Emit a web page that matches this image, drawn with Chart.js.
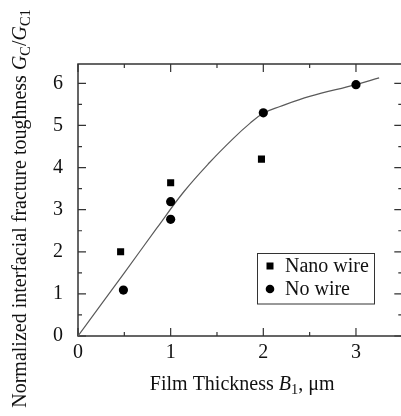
<!DOCTYPE html>
<html><head><meta charset="utf-8">
<script src="https://cdn.jsdelivr.net/npm/chart.js@4"></script>
<style>
html,body{margin:0;padding:0;background:#fff;overflow:hidden;width:401px;height:416px}
#wrap{position:relative;width:410px;height:416px}
</style></head>
<body><div id="wrap"><canvas id="c" width="410" height="416"></canvas></div>
<script>
// ---- data ----
const xTickLabels = [0, 1, 2, 3];
const yTickLabels = [0, 1, 2, 3, 4, 5, 6];
const nanoX = [0.46, 1.0, 1.98];
const nanoY = [2.0, 3.64, 4.2];
const noWireX = [0.49, 1.0, 1.0, 2.0, 3.0];
const noWireY = [1.09, 3.19, 2.77, 5.30, 5.97];
const curveX = [0, 0.5, 0.85, 1.14, 1.42, 1.68, 1.855, 2.0, 2.18, 2.5, 3.0, 3.25];
const curveY = [0, 1.5, 2.56, 3.42, 4.12, 4.70, 5.05, 5.29, 5.45, 5.69, 5.97, 6.13];
const seriesLabels = ['Nano wire', 'No wire'];

const SERIF = "'Liberation Serif', 'Times New Roman', serif";
const INK = '#111';
const AXIS = '#333';

const xTitle = [{t: 'Film Thickness '}, {t: 'B', it: true}, {t: '1', sub: true}, {t: ', \u03BCm'}];
const yTitle = [{t: 'Normalized interfacial fracture toughness '}, {t: 'G', it: true}, {t: 'C', sub: true},
                {t: '/'}, {t: 'G', it: true}, {t: 'C1', sub: true}];

function segFont(s, size) { const sz = s.sub ? size * 0.72 : size; return (s.it ? 'italic ' : '') + sz + 'px ' + SERIF; }
function richWidth(ctx, segs, size) { let w = 0; segs.forEach(s => { ctx.font = segFont(s, size); w += ctx.measureText(s.t).width; }); return w; }
function richDraw(ctx, segs, size, x, y) {
  let cx = x;
  segs.forEach(s => { ctx.font = segFont(s, size); ctx.fillText(s.t, cx, y + (s.sub ? size * 0.22 : 0)); cx += ctx.measureText(s.t).width; });
}
const toXY = (xs, ys) => xs.map((v, i) => ({x: v, y: ys[i]}));

const frameTicks = {
  id: 'frameTicks',
  beforeDatasetsDraw(chart) {
    const {ctx, chartArea: a, scales: {x, y}} = chart;
    ctx.save();
    ctx.strokeStyle = AXIS;
    ctx.lineWidth = 1.5;
    ctx.strokeRect(a.left, a.top, a.right - a.left, a.bottom - a.top);
    ctx.lineWidth = 1.2;
    ctx.beginPath();
    for (let i = 0; i * 0.5 <= x.max + 1e-9; i++) {
      const v = i * 0.5;
      const px = x.getPixelForValue(v); const L = i % 2 === 0 ? 8 : 4;
      ctx.moveTo(px, a.bottom); ctx.lineTo(px, a.bottom - L);
      ctx.moveTo(px, a.top); ctx.lineTo(px, a.top + L);
    }
    for (let i = 0; i * 0.5 <= y.max + 1e-9; i++) {
      const v = i * 0.5;
      const py = y.getPixelForValue(v); const L = i % 2 === 0 ? 8 : 4;
      ctx.moveTo(a.left, py); ctx.lineTo(a.left + L, py);
      ctx.moveTo(a.right, py); ctx.lineTo(a.right - L, py);
    }
    ctx.stroke();
    ctx.restore();
  },
  afterDraw(chart) {
    const {ctx, chartArea: a} = chart;
    ctx.save();
    ctx.fillStyle = INK;
    ctx.textBaseline = 'alphabetic';
    // x title
    const wx = richWidth(ctx, xTitle, 20);
    richDraw(ctx, xTitle, 20, (a.left + a.right) / 2 + 2 - wx / 2, 390);
    // y title
    const wy = richWidth(ctx, yTitle, 20);
    ctx.translate(26, 208.5);
    ctx.rotate(-Math.PI / 2);
    richDraw(ctx, yTitle, 20, -wy / 2, 0);
    ctx.restore();

    // legend
    ctx.save();
    ctx.strokeStyle = AXIS; ctx.lineWidth = 1;
    ctx.fillStyle = '#fff';
    ctx.fillRect(257.5, 253.5, 117, 50.5);
    ctx.strokeRect(257.5, 253.5, 117, 50.5);
    const ds = chart.data.datasets.filter(d => d.label);
    ds.forEach((d, i) => {
      const cy = 266 + i * 23;
      ctx.fillStyle = '#000';
      if (d.pointStyle === 'rect') { ctx.fillRect(266.5, cy - 3.5, 7, 7); }
      else { ctx.beginPath(); ctx.arc(270, cy, 4.3, 0, Math.PI * 2); ctx.fill(); }
      ctx.fillStyle = INK;
      ctx.font = '20px ' + SERIF;
      ctx.textBaseline = 'middle';
      ctx.fillText(d.label, 285, cy + 1);
    });
    ctx.restore();
  }
};

new Chart(document.getElementById('c'), {
  type: 'scatter',
  data: {
    datasets: [
      {type: 'line', data: toXY(curveX, curveY), borderColor: '#5a5a5a', borderWidth: 1.2, pointRadius: 0,
       tension: 0.4, fill: false, order: 2},
      {label: seriesLabels[0], data: toXY(nanoX, nanoY), pointStyle: 'rect', pointRadius: 5,
       backgroundColor: '#000', borderColor: '#000', borderWidth: 0, order: 1},
      {label: seriesLabels[1], data: toXY(noWireX, noWireY), pointStyle: 'circle', pointRadius: 4.6,
       backgroundColor: '#000', borderColor: '#000', borderWidth: 0, order: 1}
    ]
  },
  options: {
    responsive: false, animation: false, devicePixelRatio: 1,
    layout: {padding: {top: 64, right: 7.7, left: 0, bottom: 0}},
    plugins: {legend: {display: false}, tooltip: {enabled: false}},
    scales: {
      x: {type: 'linear', min: 0, max: 3.5,
          grid: {display: false, drawTicks: false}, border: {display: false},
          afterBuildTicks: s => { s.ticks = xTickLabels.map(v => ({value: v})); },
          ticks: {autoSkip: false, maxRotation: 0, padding: 5, color: INK,
                  font: {family: SERIF, size: 20},
                  callback: v => String(v)},
          afterFit: s => { s.height = 80; }},
      y: {type: 'linear', min: 0, max: 6.46,
          grid: {display: false, drawTicks: false}, border: {display: false},
          afterBuildTicks: s => { s.ticks = yTickLabels.map(v => ({value: v})); },
          ticks: {autoSkip: false, padding: 15, color: INK,
                  font: {family: SERIF, size: 20},
                  callback: v => String(v)},
          afterFit: s => { s.width = 78; }}
    }
  },
  plugins: [frameTicks]
});
</script></body></html>
